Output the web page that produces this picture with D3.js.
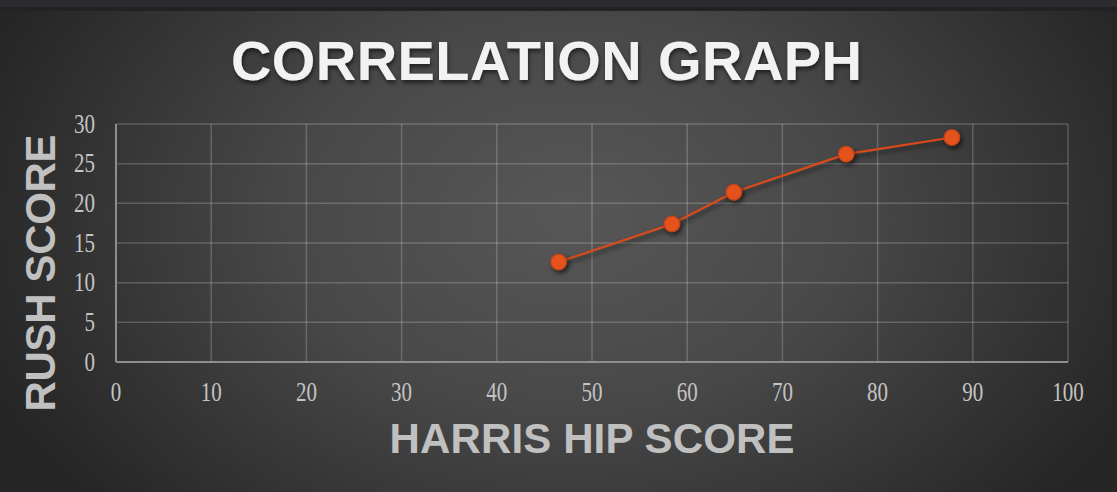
<!DOCTYPE html>
<html><head><meta charset="utf-8">
<script src="https://cdn.jsdelivr.net/npm/d3@7"></script>
<style>html,body{margin:0;padding:0;background:#2a2a2a;overflow:hidden}</style>
</head><body>
<svg id="c" width="1117" height="492"></svg>
<script>
const harris = [46.5, 58.4, 64.9, 76.7, 87.8];
const rush = [12.6, 17.4, 21.4, 26.2, 28.3];
const xTicks = [0,10,20,30,40,50,60,70,80,90,100];
const yTicks = [0,5,10,15,20,25,30];
const title = "CORRELATION GRAPH";
const xLabel = "HARRIS HIP SCORE";
const yLabel = "RUSH SCORE";

const svg = d3.select("#c");
const W = 1117, H = 492;
const defs = svg.append("defs");
const rg = defs.append("radialGradient").attr("id","bg")
  .attr("gradientUnits","userSpaceOnUse").attr("cx",570).attr("cy",215).attr("r",620)
  .attr("gradientTransform","translate(570,215) scale(1,0.7) translate(-570,-215)");
rg.append("stop").attr("offset","0").attr("stop-color","#575757");
rg.append("stop").attr("offset","0.45").attr("stop-color","#484848");
rg.append("stop").attr("offset","1").attr("stop-color","#262626");
const sh = defs.append("filter").attr("id","sh").attr("x","-50%").attr("y","-50%").attr("width","200%").attr("height","200%");
sh.append("feDropShadow").attr("dx",2).attr("dy",3).attr("stdDeviation",2.5).attr("flood-color","#000").attr("flood-opacity",0.6);
const tsh = defs.append("filter").attr("id","tsh").attr("x","-10%").attr("y","-20%").attr("width","120%").attr("height","150%");
tsh.append("feDropShadow").attr("dx",1).attr("dy",3).attr("stdDeviation",2).attr("flood-color","#000").attr("flood-opacity",0.55);

svg.append("rect").attr("width",W).attr("height",H).attr("fill","url(#bg)");
svg.append("rect").attr("width",W).attr("height",7).attr("fill","#2c2c2f");
svg.append("rect").attr("y",7).attr("width",W).attr("height",4).attr("fill","#222224");
svg.append("rect").attr("x",1112).attr("y",11).attr("width",5).attr("height",H).attr("fill","#262626");

const x = d3.scaleLinear().domain([0,100]).range([116,1068]);
const y = d3.scaleLinear().domain([0,30]).range([362,124]);

// gridlines
const g = svg.append("g");
g.selectAll(".vx").data(xTicks.slice(1)).join("line")
  .attr("x1",d=>x(d)).attr("x2",d=>x(d)).attr("y1",y(0)).attr("y2",y(30))
  .attr("stroke","rgba(255,255,255,0.2)").attr("stroke-width",1.5);
g.selectAll(".hy").data(yTicks.slice(1)).join("line")
  .attr("x1",x(0)).attr("x2",x(100)).attr("y1",d=>y(d)).attr("y2",d=>y(d))
  .attr("stroke","rgba(255,255,255,0.2)").attr("stroke-width",1.5);
// axes lines
svg.append("line").attr("x1",x(0)).attr("x2",x(100)).attr("y1",y(0)).attr("y2",y(0)).attr("stroke","#8e8e8e").attr("stroke-width",2);
svg.append("line").attr("x1",x(0)).attr("x2",x(0)).attr("y1",y(0)).attr("y2",y(30)).attr("stroke","#8e8e8e").attr("stroke-width",2);

// tick labels (slightly tall glyphs, as in the reference)
const tickFont = "'Liberation Serif','Times New Roman',serif";
svg.selectAll(".xt").data(xTicks).join("text")
  .attr("transform",d=>`translate(${x(d)},400.5) scale(1,1.25)`).attr("text-anchor","middle")
  .attr("font-family",tickFont).attr("font-size",21)
  .attr("fill","#c4c4c4").text(d=>d);
svg.selectAll(".yt").data(yTicks).join("text")
  .attr("transform",d=>`translate(95,${y(d)+8.5}) scale(1,1.25)`).attr("text-anchor","end")
  .attr("font-family",tickFont).attr("font-size",21)
  .attr("fill","#c4c4c4").text(d=>d);

// line + markers
const pts = harris.map((h,i)=>[h,rush[i]]);
svg.append("path").datum(pts)
  .attr("d",d3.line().x(d=>x(d[0])).y(d=>y(d[1])))
  .attr("fill","none").attr("stroke","#d94a1a").attr("stroke-width",2.2).attr("filter","url(#sh)");
svg.selectAll(".m").data(pts).join("circle")
  .attr("cx",d=>x(d[0])).attr("cy",d=>y(d[1])).attr("r",7.8)
  .attr("fill","#e4531f").attr("stroke","#c2421a").attr("stroke-width",1.2).attr("filter","url(#sh)");

// titles
svg.append("text").attr("x",546.5).attr("y",80).attr("text-anchor","middle")
  .attr("font-family","'Liberation Sans',Arial,sans-serif").attr("font-weight","bold").attr("font-size",56)
  .attr("fill","#f2f2f2").attr("filter","url(#tsh)").attr("textLength",631).attr("lengthAdjust","spacing").text(title);
svg.append("text").attr("x",592).attr("y",453).attr("text-anchor","middle")
  .attr("font-family","'Liberation Sans',Arial,sans-serif").attr("font-weight","bold").attr("font-size",42)
  .attr("fill","#c0c0c0").attr("textLength",405).attr("lengthAdjust","spacing").text(xLabel);
svg.append("text").attr("transform","translate(55,273) rotate(-90)").attr("text-anchor","middle")
  .attr("font-family","'Liberation Sans',Arial,sans-serif").attr("font-weight","bold").attr("font-size",42)
  .attr("fill","#c0c0c0").attr("textLength",277).attr("lengthAdjust","spacing").text(yLabel);
</script>
</body></html>
